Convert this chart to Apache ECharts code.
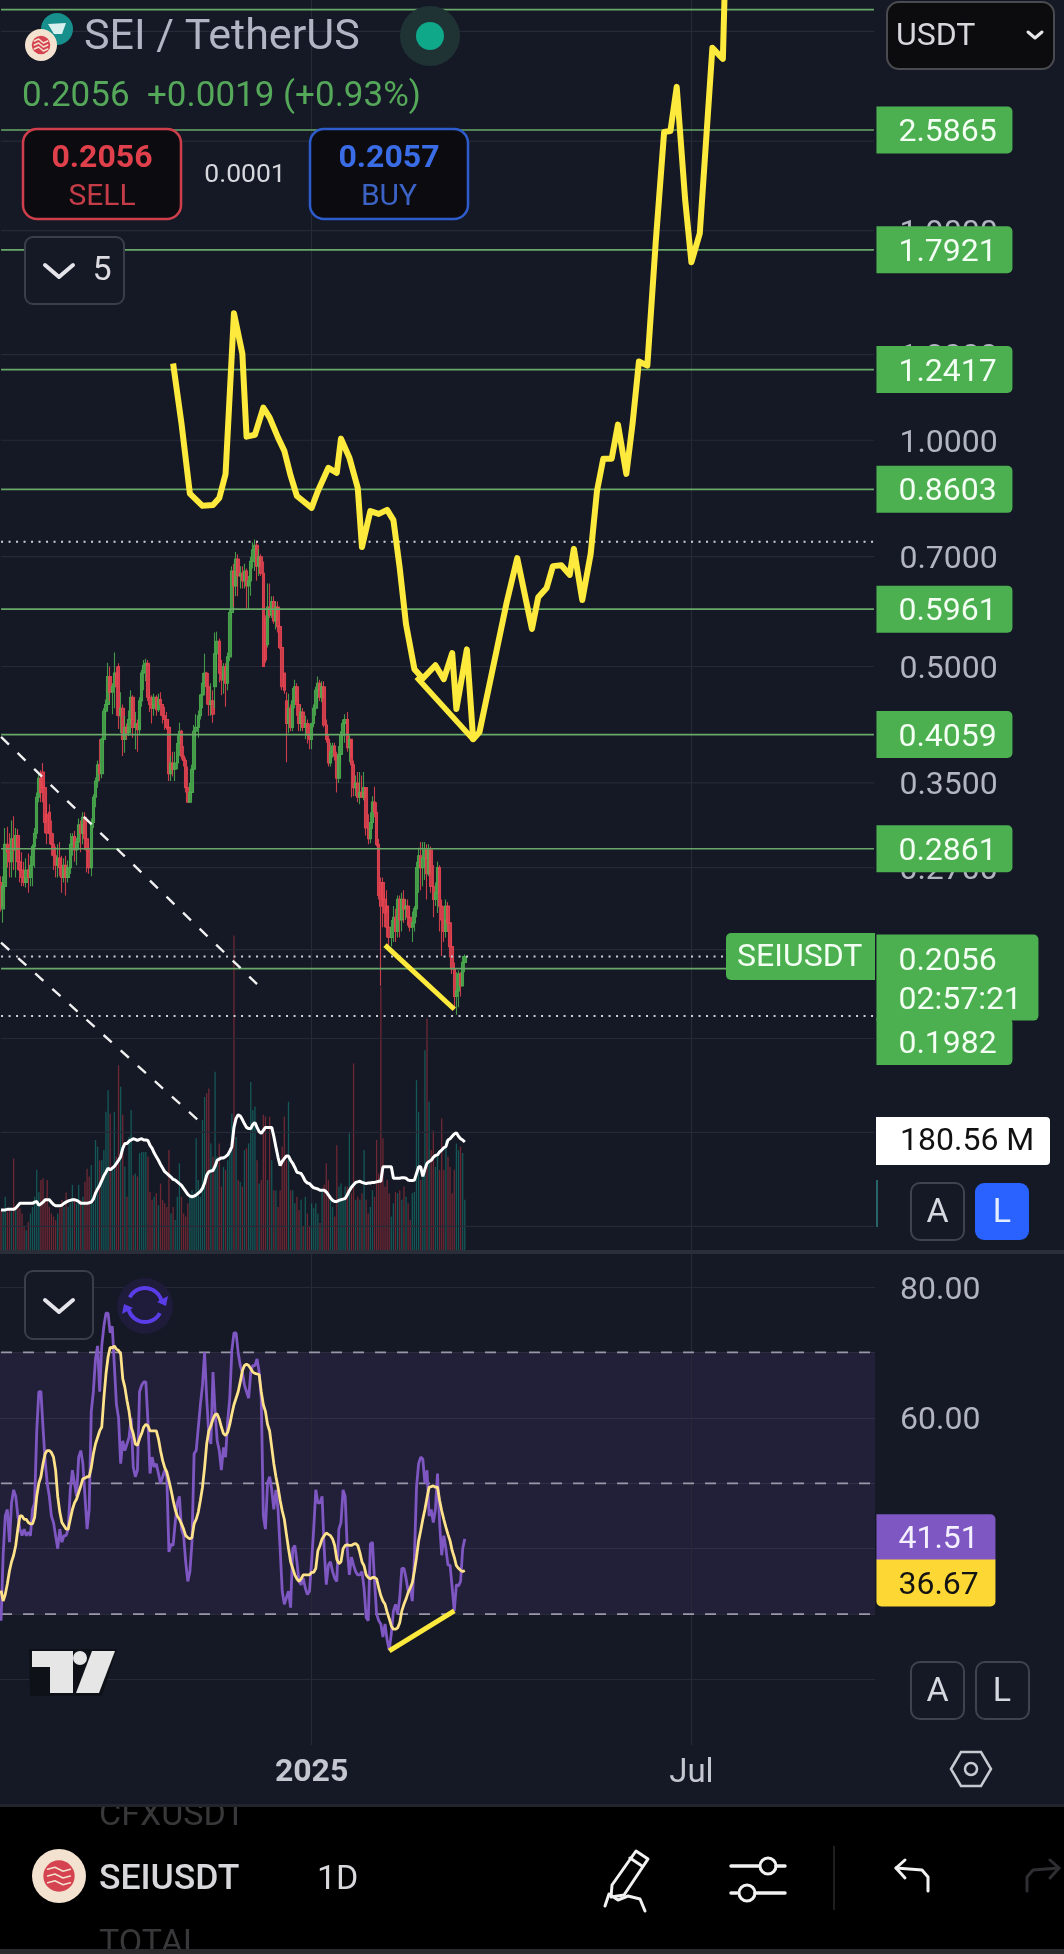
<!DOCTYPE html>
<html><head><meta charset="utf-8">
<style>html,body{margin:0;padding:0;background:#151925}#c{width:1064px;height:1954px}</style>
<script src="https://cdn.jsdelivr.net/npm/echarts@6/dist/echarts.min.js"></script>
</head><body><div id="c"></div>
<script>
// ---------- data ----------
const firstDay = '2024-08-06';
const dayCount = 417;
const timeTicks = {'2025-01-01':'2025','2025-07-01':'Jul'};
const ohlc = [
[.258,.240,.236,.263],[.238,.255,.228,.263],[.255,.290,.250,.305],[.290,.283,.270,.306],[.283,.275,.262,.300],[.275,.295,.262,.312],[.295,.285,.268,.316],[.285,.298,.262,.305],[.298,.275,.268,.304],[.275,.268,.258,.285],
[.268,.262,.255,.283],[.262,.258,.255,.275],[.258,.268,.254,.278],[.268,.262,.250,.282],[.262,.272,.255,.280],[.272,.288,.255,.290],[.288,.300,.270,.305],[.300,.335,.295,.340],[.335,.355,.330,.360],[.355,.340,.330,.364],
[.362,.345,.330,.372],[.345,.310,.300,.350],[.318,.300,.290,.330],[.320,.300,.290,.328],[.300,.290,.280,.312],[.290,.280,.268,.300],[.280,.272,.262,.288],[.272,.278,.262,.290],[.278,.270,.263,.292],[.270,.262,.250,.280],
[.262,.272,.258,.278],[.272,.262,.248,.280],[.262,.270,.258,.276],[.270,.290,.265,.300],[.290,.297,.280,.300],[.297,.285,.275,.302],[.285,.292,.272,.296],[.292,.308,.285,.314],[.308,.300,.283,.312],[.300,.315,.290,.320],
[.315,.295,.285,.320],[.295,.285,.266,.300],[.285,.270,.265,.292],[.270,.310,.263,.314],[.310,.335,.305,.338],[.335,.352,.325,.356],[.352,.370,.345,.375],[.370,.360,.352,.400],[.360,.400,.355,.402],[.400,.436,.395,.440],
[.436,.445,.425,.452],[.445,.485,.440,.506],[.485,.462,.450,.500],[.462,.470,.432,.475],[.470,.490,.440,.522],[.490,.470,.430,.500],[.500,.430,.413,.505],[.430,.440,.408,.462],[.440,.400,.380,.445],[.400,.415,.384,.430],
[.415,.408,.400,.420],[.408,.425,.404,.437],[.425,.455,.420,.465],[.455,.415,.402,.458],[.415,.420,.388,.435],[.420,.412,.385,.425],[.412,.450,.405,.455],[.450,.490,.442,.495],[.490,.502,.465,.510],[.502,.505,.478,.512],
[.505,.455,.450,.510],[.455,.445,.435,.465],[.445,.440,.420,.458],[.440,.455,.430,.460],[.455,.438,.430,.458],[.438,.452,.435,.460],[.452,.445,.430,.462],[.445,.430,.420,.445],[.430,.425,.412,.442],[.425,.415,.412,.435],
[.415,.360,.352,.425],[.360,.372,.352,.380],[.372,.365,.357,.385],[.365,.372,.352,.385],[.372,.395,.365,.405],[.395,.410,.380,.421],[.410,.380,.376,.412],[.380,.375,.368,.392],[.375,.345,.340,.378],[.345,.330,.330,.368],
[.330,.340,.330,.350],[.340,.365,.335,.370],[.365,.410,.360,.418],[.410,.415,.402,.432],[.415,.430,.402,.437],[.430,.458,.425,.460],[.458,.475,.440,.490],[.475,.490,.458,.520],[.490,.470,.445,.492],[.470,.445,.430,.490],
[.445,.450,.430,.475],[.450,.432,.421,.465],[.470,.520,.440,.555],[.520,.540,.495,.556],[.540,.490,.476,.545],[.490,.480,.458,.510],[.480,.500,.460,.505],[.500,.475,.442,.505],[.475,.515,.465,.522],[.515,.590,.508,.595],
[.590,.670,.580,.680],[.670,.640,.600,.685],[.640,.695,.620,.710],[.695,.660,.620,.705],[.660,.665,.635,.680],[.665,.650,.635,.680],[.650,.670,.635,.685],[.670,.640,.596,.675],[.640,.650,.596,.660],[.650,.690,.621,.700],
[.690,.715,.675,.731],[.715,.725,.670,.738],[.725,.680,.650,.735],[.680,.700,.660,.716],[.700,.665,.660,.705],[.665,.500,.500,.690],[.580,.510,.506,.585],[.535,.600,.530,.645],[.600,.585,.580,.645],[.585,.610,.580,.620],
[.610,.575,.570,.620],[.575,.600,.560,.610],[.600,.565,.555,.610],[.565,.530,.527,.572],[.530,.470,.465,.535],[.490,.465,.460,.490],[.450,.420,.373,.462],[.420,.440,.408,.460],[.440,.415,.410,.445],[.415,.450,.410,.468],
[.450,.470,.440,.480],[.470,.445,.430,.475],[.445,.420,.410,.455],[.420,.435,.410,.442],[.435,.415,.410,.440],[.415,.420,.400,.430],[.420,.405,.395,.425],[.405,.400,.388,.420],[.400,.420,.388,.421],[.420,.440,.415,.445],
[.440,.465,.430,.470],[.465,.475,.448,.485],[.475,.455,.450,.480],[.455,.470,.448,.478],[.470,.418,.415,.478],[.418,.400,.396,.425],[.400,.372,.368,.405],[.372,.385,.368,.396],[.385,.392,.378,.396],[.392,.380,.375,.396],
[.380,.355,.340,.385],[.355,.382,.350,.392],[.382,.405,.372,.410],[.405,.420,.400,.425],[.420,.425,.396,.432],[.425,.390,.385,.435],[.390,.400,.373,.405],[.400,.370,.335,.378],[.370,.345,.336,.375],[.345,.350,.336,.358],
[.350,.335,.330,.362],[.335,.340,.328,.362],[.340,.335,.335,.358],[.335,.345,.332,.362],[.345,.305,.298,.345],[.305,.295,.290,.318],[.295,.310,.291,.320],[.310,.330,.304,.336],[.330,.320,.315,.346],[.320,.290,.288,.330],
[.290,.248,.245,.295],[.258,.240,.188,.262],[.258,.245,.225,.262],[.245,.235,.225,.250],[.240,.225,.218,.252],[.225,.218,.212,.240],[.218,.225,.212,.230],[.225,.232,.215,.240],[.232,.222,.215,.238],[.222,.245,.218,.248],
[.245,.230,.218,.248],[.230,.245,.222,.250],[.245,.238,.228,.252],[.238,.240,.230,.245],[.240,.232,.226,.245],[.232,.225,.222,.240],[.225,.228,.215,.236],[.228,.238,.222,.240],[.238,.270,.232,.275],[.270,.280,.250,.287],
[.280,.270,.252,.292],[.270,.278,.255,.292],[.278,.285,.260,.292],[.285,.265,.245,.290],[.265,.285,.263,.290],[.285,.255,.250,.288],[.255,.245,.232,.272],[.245,.250,.240,.258],[.250,.270,.235,.275],[.270,.240,.222,.272],
[.240,.230,.206,.245],[.230,.222,.215,.240],[.222,.240,.218,.245],[.240,.228,.222,.243],[.228,.212,.205,.232],[.212,.198,.195,.220],[.198,.182,.175,.202],[.182,.185,.172,.196],[.185,.195,.176,.197],[.195,.188,.182,.196],
[.188,.202,.188,.206],[.202,.2056,.196,.207]];
const volumeM = [67,64,89,64,67,64,153,67,70,70,61,39,33,47,61,72,89,134,97,117,120,84,117,72,61,56,50,61,70,84,72,96,72,78,109,84,78,109,84,89,114,136,123,142,78,184,173,150,150,167,231,267,228,139,231,156,309,273,226,139,89,189,234,125,128,123,162,164,164,164,156,97,84,89,95,75,111,84,78,72,167,61,72,50,89,145,89,61,56,78,89,100,95,187,117,89,217,256,262,270,178,156,298,156,178,106,139,134,150,167,228,526,189,117,114,106,167,170,178,281,234,240,150,111,117,226,223,117,223,150,100,100,72,100,173,223,150,248,100,100,78,89,67,84,39,89,61,39,78,70,78,61,45,100,109,145,117,84,72,56,175,106,111,84,106,106,195,95,312,84,89,84,95,167,84,61,72,100,89,184,128,440,187,106,117,95,56,78,97,95,100,84,106,89,78,50,95,97,284,231,117,134,334,387,248,167,200,139,156,134,220,134,184,156,139,95,134,178,167,173,162,84];
const volumeMA = [67,67,67,68,68,68,68,70,74,78,78,78,78,78,78,78,80,81,75,77,80,84,84,84,80,76,74,74,74,75,78,80,82,83,84,84,83,81,78,78,78,78,79,80,85,95,102,108,116,124,130,137,134,137,140,145,150,156,170,178,178,182,184,186,185,183,185,186,184,184,183,175,170,162,156,150,143,137,131,128,125,122,118,117,114,111,108,103,98,93,90,89,90,92,95,98,103,112,125,131,132,133,140,150,152,154,154,156,159,165,173,205,220,226,224,218,211,205,203,203,210,213,205,198,195,200,205,205,205,205,190,172,155,141,148,153,157,157,150,145,138,130,129,128,122,115,112,111,107,104,103,102,100,100,100,97,92,87,83,81,81,83,84,85,86,92,99,105,109,113,114,115,113,112,111,112,112,113,113,114,115,115,139,139,139,139,139,120,120,120,120,121,121,120,117,116,116,117,128,139,139,123,135,145,148,150,155,158,159,164,167,171,173,184,186,190,194,196,190,186,184,180.56];
const rsi = [29,39,45,46,41,47,49,48,45,43,42,43,42,42.5,42,46,47,58,64,64,58.5,53.5,50,48,45,44,42,40,43,41,42,42,43,49,52,50,48,54,55,53,48,43,46,61,64,69,71,64,71,74,76,76,73,74,68,62,60,53,56.5,55,56,57,60,52.5,51,52,64,65,65.5,65.5,59.5,51.5,54,52.5,53,51.5,50,51,52,51,39.5,40.7,40.5,44,47,48,43,42,38,35,36.5,41,54.5,55,58.5,62,65,70,63,57.5,56,67,61,56.5,55,52,55.5,54,59.5,63,70.3,73,73,70,68,67,65,64,63,67,68,68,69,67,63,45,43,50,51,49,46,49,46,40,33.5,31.5,32.5,33.5,31,40,40.5,38,35,34.5,35.5,34,33,33.5,38,43,49,47,47,48,40,34.5,37.5,38,36.5,35.5,35,43,44,49,48,40,36,38.7,37.5,36.5,36,36,36.5,34,29.5,29,40.7,41,35,30,29,28.5,26.5,28.5,26,24.5,27,30.5,31.5,30,32.5,37,37,35.5,33.5,34,32,38.7,49.4,53,54,53.7,50,52,45,46,44,46,51.5,44,39,42,40,37.5,37.5,34,30.5,34.5,34.3,35,40,41.51];
const rsiMA = [33.6,32,33,34.6,36.6,38,39,40.5,43,45,45,44.5,44.5,44,43.8,43.8,44.8,48,50,51,53,54.5,55,55,54.7,54,52,48,45.6,44,43.5,43,43,44.5,46,47,47.6,48.6,49.6,50.7,50.8,51,51,52.4,54.5,56,57,58,58.6,63,66.7,69.3,70.8,70.7,71,70.5,70.3,69.8,66,64.7,62.7,61,58.6,57.6,56,55.8,56.8,57.6,58.6,59,58.8,58,58,58,58,56.8,55,53.5,52.4,51.7,50.4,49,47.4,46,45,44.5,43.8,43,42,41.7,41.5,41.7,43.8,44.5,45.6,47.4,49.4,52.4,56,58,58.8,59.8,60.5,60.6,59.8,58.6,57.6,57.3,57.8,59,60.6,62,63,64,65.5,67.2,68,68.2,68,67.5,67,66.8,66.7,66.6,64,62,61,59,58,55.5,53,51,49.4,47.4,45.8,44.5,42.2,40,38,37,36,35.4,35,35.4,36,36,36,36,36.4,36.4,37,39.7,40.5,41.5,42,42.4,42.2,42,41.5,40.5,38.4,37.7,38,40,40.5,40.6,40.5,40.5,40.7,40.8,40.5,39.4,38,37.4,36,35.6,35.4,35.6,35.6,35.4,34,32.8,32,31.5,30.3,29.3,28.2,27.7,27.7,27.9,28.7,30.5,31.5,32.3,33.3,34,34.8,36.6,38.7,41.2,42.8,44.5,46,47.8,49.4,49.5,49.6,49.4,49.4,47.4,45.8,44.5,43.3,42.2,41.2,39.7,38.7,37.4,37,36.7,36.5,36.67];
// hand drawn projection: [day index, price]
const projection = [[82,1.265],[86,1.052],[90,.849],[96,.818],[101,.820],[104,.838],[107,.902],[111,1.475],[115,1.304],[117,1.011],[121,1.017],[125,1.105],[128,1.072],[132,1.008],[135,.968],[138,.897],[141,.843],[148,.813],[151,.856],[156,.919],[160,.905],[162,1.005],[166,.948],[170,.864],[172,.721],[176,.805],[180,.798],[184,.808],[187,.783],[190,.676],[193,.569],[197,.496],[201,.482],[207,.502],[211,.481],[215,.521],[217,.439],[222,.527],[225,.400],[228,.409],[241,.609],[246,.697],[253,.561],[256,.618],[260,.636],[263,.680],[267,.682],[271,.662],[273,.717],[277,.613],[281,.706],[284,.856],[287,.945],[291,.945],[294,1.049],[298,.902],[301,1.055],[304,1.273],[308,1.257],[312,1.834],[316,2.571],[319,2.578],[322,2.952],[326,2.093],[329,1.725],[333,1.885],[339,3.327],[344,3.217],[345,4.10]];
const projectionWedge = [[198,.484],[225,.400]];
const priceDivergence = [[183,.213],[216,.175]];
const rsiDivergence = [[185,24.4],[216,30.5]];
const dashedTrendA = [[0,.403],[122,.189]];
const dashedTrendB = [[0,.2146],[95,.1238]];
const priceLevels = [2.5865,1.7921,1.2417,.8603,.5961,.4059,.2861];
const topLevel = 3.74;
const lowLevel = .1982;
const lastPrice = .2056;
const dottedLevels = [.733,.2056,.1714];
const priceTicks = [3.5,2.5,1.9,1.3,1,.7,.5,.35,.27,.21,.16,.12,.09];
const labelledTicks = [1.9,1.3,1,.7,.5,.35,.27];
const rsiBands = [70,50,30];
const rsiLabels = [80,60,40];
const lastRsi = 41.51, lastRsiMA = 36.67;
// ---------- colours ----------
const BG='#151925',GRID='#262a36',AXT='#b2b5c0',GREEN='#4caf50',LVL='#68a868',UP='#4caf50',DN='#ea4452',YEL='#fdea3c';
const categories=[];(function(){const d=new Date(firstDay+'T00:00:00Z');for(let i=0;i<dayCount;i++){categories.push(d.toISOString().slice(0,10));d.setUTCDate(d.getUTCDate()+1);}})();
const isTick=(i,v)=>timeTicks[v]!==undefined;
const gridX={left:0,width:875};
// ---------- helpers for the app chrome ----------
const gfx=[];
const rect=(x,y,w,h,fill,stroke,r,lw,z)=>gfx.push({type:'rect',z:z||100,shape:{x,y,width:w,height:h,r:r||0},style:{fill:fill||'transparent',stroke:stroke||null,lineWidth:lw||2}});
const circ=(cx,cy,r,fill,stroke,lw)=>gfx.push({type:'circle',z:101,shape:{cx,cy,r},style:{fill:fill||'transparent',stroke:stroke||null,lineWidth:lw||2}});
const text=(x,y,t,size,fill,align,weight)=>gfx.push({type:'text',z:101,style:{x,y:y+6,text:t,fill,font:(weight||'normal')+' '+size+'px Roboto',align:align||'left',verticalAlign:'middle'}});
const poly=(pts,stroke,lw)=>gfx.push({type:'polyline',z:101,shape:{points:pts},style:{fill:null,stroke,lineWidth:lw||3,lineCap:'round',lineJoin:'round'}});
const fillPoly=(pts,fill)=>gfx.push({type:'polygon',z:101,shape:{points:pts},style:{fill}});
const seiCoin=(cx,cy,r)=>{circ(cx,cy,r,'#f3e2cf');circ(cx,cy,r*.58,'#d4434f');[-.25,0,.25].forEach(k=>poly([[cx-r*.42,cy+k*r],[cx-r*.15,cy+k*r-2],[cx+r*.15,cy+k*r+2],[cx+r*.42,cy+k*r]],'#f3e2cf',1.6));};
// header
circ(57,29,16,'#178f8d');fillPoly([[48,24],[66,23],[62,34],[54,34]],'#d8f0ee');seiCoin(41,45,16);
text(84,32,'SEI / TetherUS',43,'#b2b5c4');
circ(430,36,30,'#1f3335');circ(430,36,14,'#0fa888');
text(22,91,'0.2056',35,'#55a75a');text(147,91,'+0.0019 (+0.93%)',35,'#55a75a');
rect(23,129,158,90,'#0c0c10','#cf3f4b',14,2.5);text(102,153,'0.2056',32,'#e0404c','center','bold');text(102,191,'SELL',30,'#c43c48','center');
text(245,169,'0.0001',26.5,'#d6d8de','center');
rect(310,129,158,90,'#0c0c10','#2f5ccc',14,2.5);text(389,153,'0.2057',32,'#3a6ce6','center','bold');text(389,191,'BUY',30,'#3c62c4','center');
rect(25,237,99,67,BG,'#3a3e4a',8,2);poly([[45,265],[59,277],[73,265]],'#e4e4ea',4);text(102,265,'5',34,'#dcdce2','center');
rect(887,2,167,67,'#0c0c0e','#4a4b50',12,2);text(896,31,'USDT',32,'#d8d8dc');poly([[1028,32],[1035,38],[1042,32]],'#e8e8e8',3);
// pane chrome
rect(0,1250,1064,4,'#2a2e38');
rect(726,933,149,47,GREEN,null,[5,0,0,5]);text(737,952,'SEIUSDT',32,'#f2fff2');
gfx.push({type:'rect',z:100,shape:{x:876,y:1117,width:174,height:48,r:[0,4,4,0]},style:{fill:'#fff'}});text(900,1136,'180.56 M',32,'#111');
gfx.push({type:'line',z:100,shape:{x1:877,y1:1180,x2:877,y2:1227},style:{stroke:'#2f7f80',lineWidth:1.5}});
rect(911,1183,53,57,BG,'#3f434e',9,2);text(937.5,1207,'A',34,'#d6d8e0','center');
rect(975,1183,54,57,'#2962ff',null,9);text(1002,1207,'L',34,'#e4ecff','center');
rect(25,1271,68,68,BG,'#3a3e4a',8,2);poly([[45,1300],[59,1312],[73,1300]],'#e4e4ea',4);
circ(145,1306,28,'#1f1b3b');
gfx.push({type:'arc',z:101,shape:{cx:145,cy:1305,r:17,startAngle:3.6,endAngle:6.1},style:{stroke:'#5a3de6',lineWidth:4,fill:null}});
gfx.push({type:'arc',z:101,shape:{cx:145,cy:1305,r:17,startAngle:0.5,endAngle:3.0},style:{stroke:'#5a3de6',lineWidth:4,fill:null}});
fillPoly([[157,1302],[168,1296],[166,1306]],'#5a3de6');fillPoly([[133,1308],[122,1314],[124,1304]],'#5a3de6');
gfx.push({type:'polygon',z:100,shape:{points:[[29,1649],[117,1649],[102,1696],[30,1696]]},style:{fill:'#0e1118'}});
fillPoly([[32,1651],[73,1651],[73,1693],[50,1693],[50,1667],[32,1667]],'#e6e6e6');circ(80,1658,7,'#e6e6e6');
fillPoly([[92,1651],[115,1651],[99,1693],[76,1693]],'#e6e6e6');
rect(911,1662,53,57,null,'#3f434e',9,2);text(937.5,1686,'A',34,'#d6d8e0','center');
rect(976,1662,53,57,null,'#3f434e',9,2);text(1002,1686,'L',34,'#d6d8e0','center');
gfx.push({type:'polygon',z:101,shape:{points:[[951,1769],[961,1752],[981,1752],[991,1769],[981,1786],[961,1786]]},style:{fill:null,stroke:'#c8cad2',lineWidth:2.5}});circ(971,1769,6,null,'#c8cad2',2.5);
// bottom bar
rect(0,1804,1064,150,'#000');
text(99,1810,'CFXUSDT',34,'#38383a');
text(99,1938,'TOTAL',34,'#38383a');
rect(90,1785,200,19,BG,null,0,0,102);
rect(0,1804,1064,3,'#22252c',null,0,0,102);
rect(0,1949,1064,5,'#2b2b2e',null,0,0,102);
seiCoin(59,1876,27);
text(99,1874,'SEIUSDT',35.5,'#d8d8dc','left','500');text(317,1874,'1D',34,'#d8d8dc');
poly([[612,1885],[636,1851],[648,1859],[624,1895],[611,1897],[612,1885]],'#f2f2f2',3);poly([[630,1858],[642,1866]],'#f2f2f2',3);
poly([[605,1906],[609,1894],[618,1900],[628,1896],[640,1899],[645,1911]],'#f2f2f2',3);
poly([[731,1866],[767,1866]],'#f2f2f2',3.5);circ(768,1866,8,'#000','#f2f2f2',3);poly([[776,1866],[785,1866]],'#f2f2f2',3.5);
poly([[731,1893],[737,1893]],'#f2f2f2',3.5);circ(747,1893,8,'#000','#f2f2f2',3);poly([[755,1893],[785,1893]],'#f2f2f2',3.5);
gfx.push({type:'line',z:100,shape:{x1:834,y1:1846,x2:834,y2:1910},style:{stroke:'#2a2a2e',lineWidth:1.5}});
poly([[928,1891],[928,1877],[922,1870],[896,1868]],'#f2f2f2',3);poly([[905,1860],[896,1868],[905,1878]],'#f2f2f2',3);
poly([[1027,1891],[1027,1877],[1033,1870],[1059,1868]],'#2f2f33',3);poly([[1050,1860],[1059,1868],[1050,1878]],'#2f2f33',3);

// a level drawn from the first to the last day of the axis, with an optional label at its right end
const lastDay=dayCount-1;
const level=(pane,v,name,z,lineStyle,label)=>({name,type:'line',xAxisIndex:pane,yAxisIndex:pane,z,silent:true,
  symbol:'circle',symbolSize:1,showSymbol:true,itemStyle:{color:'rgba(0,0,0,0)'},lineStyle,
  data:[[0,v],label?{value:[lastDay,v],label:Object.assign({show:true,position:'right',fontFamily:'Roboto'},label)}:[lastDay,v]]});
const tagLabel=(txt,extra)=>Object.assign({distance:2,formatter:txt,color:'#f2fff2',fontSize:32,backgroundColor:GREEN,width:114,height:41,lineHeight:41,verticalAlign:'top',offset:[0,-23.5],padding:[6,0,0,22],borderRadius:[0,5,5,0]},extra||{});
const lvl={color:LVL,width:1.7};
const faint={color:GRID,width:1.2};
const dotted={color:'#d0d2d8',width:2,type:[2,5.5]};
const vertical=()=>({silent:true,symbol:['none','none'],z:1,animation:false,label:{show:false},lineStyle:{color:GRID,width:1.2,type:'solid'},
   data:Object.keys(timeTicks).map(d=>({xAxis:d}))});

const option={
 animation:false,backgroundColor:BG,textStyle:{fontFamily:'Roboto'},
 graphic:gfx,
 grid:[
  Object.assign({top:0,height:1250},gridX),
  Object.assign({top:800,height:450},gridX),
  Object.assign({top:1253,height:492},gridX)],
 xAxis:[0,1,2].map(g=>({type:'category',gridIndex:g,data:categories,boundaryGap:true,
   axisLine:{show:false},axisTick:{show:false},
   axisLabel:g===2?{show:true,interval:isTick,hideOverlap:false,margin:12,fontFamily:'Roboto',fontSize:33,
     color:'#c4c6d0',formatter:v=>timeTicks[v]==='2025'?'{b|2025}':(timeTicks[v]||''),rich:{b:{fontWeight:'bold',fontSize:32,color:'#c4c6d0',fontFamily:'Roboto'}}}:{show:false},
   splitLine:{show:false}})),
 yAxis:[
  {type:'log',logBase:10,gridIndex:0,min:.0837,max:3.852,show:false,splitLine:{show:false}},
  {type:'value',gridIndex:1,min:0,max:752.4,show:false,splitLine:{show:false}},
  {type:'value',gridIndex:2,min:10,max:85.2,interval:10,position:'right',axisLine:{show:false},axisTick:{show:false},
   axisLabel:{margin:25,fontFamily:'Roboto',fontSize:32,color:AXT,align:'left',verticalAlign:'top',lineHeight:7,formatter:v=>rsiLabels.indexOf(v)>=0?v.toFixed(2):''},
   splitLine:{show:true,showMinLine:false,showMaxLine:false,lineStyle:{color:GRID,width:1.2}}}],
 series:[].concat(
  priceTicks.map(v=>level(0,v,'Tick '+v,1,faint,labelledTicks.indexOf(v)>=0?{distance:25,formatter:v.toFixed(4),color:AXT,fontSize:32,offset:[0,3.5]}:null)),
  [
  {name:'Volume',type:'bar',xAxisIndex:1,yAxisIndex:1,barWidth:1.3,z:1,
   data:volumeM.map((v,i)=>({value:v,itemStyle:{color:ohlc[i][1]>=ohlc[i][0]?'rgba(20,150,135,.5)':'rgba(235,60,75,.42)'}}))},
  {name:'SEIUSDT',type:'candlestick',xAxisIndex:0,yAxisIndex:0,z:2,barWidth:3,data:ohlc,
   itemStyle:{color:UP,color0:DN,borderColor:UP,borderColor0:DN,borderWidth:1.1,opacity:.85},
   markLine:vertical()},
  {name:'Volume MA',type:'line',xAxisIndex:1,yAxisIndex:1,data:volumeMA,showSymbol:false,symbol:'none',z:4,lineStyle:{color:'#fff',width:3}},
  {name:'Projection',type:'line',xAxisIndex:0,yAxisIndex:0,data:projection,symbol:'none',showSymbol:false,z:8,lineStyle:{color:YEL,width:6,join:'round'}},
  {name:'Projection wedge',type:'line',xAxisIndex:0,yAxisIndex:0,data:projectionWedge,symbol:'none',showSymbol:false,z:8,lineStyle:{color:YEL,width:5.5}},
  {name:'Price divergence',type:'line',xAxisIndex:0,yAxisIndex:0,data:priceDivergence,symbol:'none',showSymbol:false,z:8,lineStyle:{color:YEL,width:5}},
  {name:'Trend A',type:'line',xAxisIndex:0,yAxisIndex:0,data:dashedTrendA,symbol:'none',showSymbol:false,z:5,lineStyle:{color:'#f0f0f0',width:2.4,type:[11,12]}},
  {name:'Trend B',type:'line',xAxisIndex:0,yAxisIndex:0,data:dashedTrendB,symbol:'none',showSymbol:false,z:5,lineStyle:{color:'#f0f0f0',width:2.4,type:[11,12]}},
  {name:'RSI',type:'line',xAxisIndex:2,yAxisIndex:2,data:rsi,symbol:'none',showSymbol:false,z:5,lineStyle:{color:'#7e57c2',width:2.8},
   markArea:{silent:true,z:1,itemStyle:{color:'rgba(126,87,194,.13)'},data:[[{yAxis:rsiBands[0]},{yAxis:rsiBands[2]}]]},
   markLine:vertical()},
  {name:'RSI MA',type:'line',xAxisIndex:2,yAxisIndex:2,data:rsiMA,symbol:'none',showSymbol:false,z:6,lineStyle:{color:'#ffe38a',width:2.8}},
  {name:'RSI divergence',type:'line',xAxisIndex:2,yAxisIndex:2,data:rsiDivergence,symbol:'none',showSymbol:false,z:8,lineStyle:{color:YEL,width:5}}
  ],
  rsiBands.map(v=>level(2,v,'Band '+v,3,{color:'#9a98a8',width:1.8,type:[11,11]})),
  [level(2,lastRsi,'RSI tag',9,{opacity:0},tagLabel('41.51',{width:97,color:'#f4f0ff',backgroundColor:'#7e57c2',height:40,lineHeight:40,offset:[0,-24.5],borderRadius:[0,5,0,0]})),
   level(2,lastRsiMA,'RSI MA tag',9,{opacity:0},tagLabel('36.67',{width:97,color:'#131313',backgroundColor:'#fdd835',offset:[0,-11],borderRadius:[0,0,5,5]}))],
  [level(0,topLevel,'Top level',3,lvl)],
  priceLevels.map(v=>level(0,v,'Level '+v,3,lvl,tagLabel(v.toFixed(4)))),
  dottedLevels.map(v=>level(0,v,'Dotted '+v,3,dotted)),
  [level(0,lowLevel,'Low level',3,lvl,tagLabel(lowLevel.toFixed(4),{offset:[0,49.5]})),
   level(0,lastPrice,'Last price',4,{opacity:0},tagLabel('0.2056\n02:57:21',{offset:[0,-22],width:140,height:78,lineHeight:39,padding:[8,0,0,22]}))]
 )};
const chart=echarts.init(document.getElementById('c'),null,{renderer:'canvas',width:1064,height:1954});
chart.setOption(option);
</script></body></html>
